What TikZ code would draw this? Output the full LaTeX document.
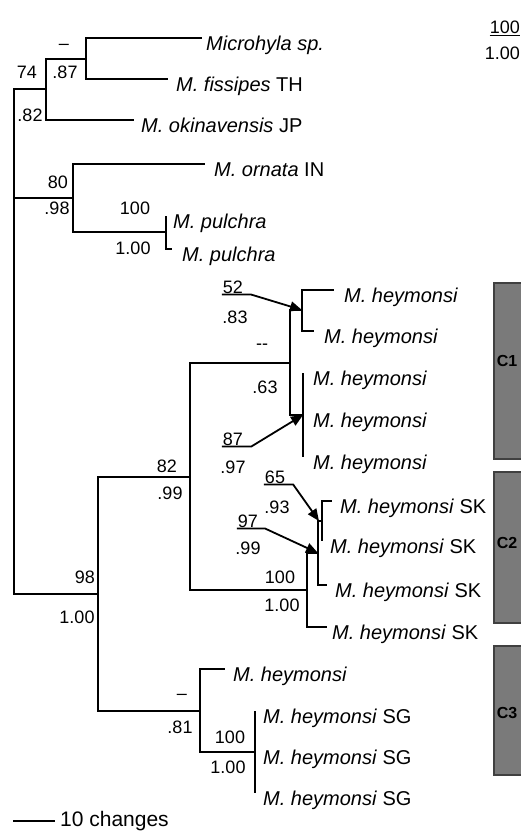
\documentclass[tikz,border=0pt]{standalone}
\usepackage{fontspec}
\setmainfont{Liberation Sans}
\usetikzlibrary{arrows.meta,positioning}

\newcommand{\mh}{\textit{M.\ heymonsi}}

\begin{document}
\begin{tikzpicture}[x=1pt,y=-1pt,
  br/.style={line width=2pt},
  taxon/.style={font=\fontsize{20}{24}\selectfont,inner sep=0pt,text height=14pt,text depth=4pt},
  supp/.style={font=\fontsize{18}{21}\selectfont,inner sep=1pt},
  ptr/.style={line width=1.8pt,-{Triangle[length=12pt,width=10pt]}},
  clade/.style={draw=black!75,line width=1.5pt,fill=black!52},
  cname/.style={font=\bfseries\fontsize{16}{18}\selectfont,inner sep=0pt}
]
\useasboundingbox (0,0) rectangle (521,833);
\clip (0,0) rectangle (521,833);

% internal nodes
\coordinate (root) at (14,198);
\coordinate (nA) at (46,89);
\coordinate (nB) at (86,59);
\coordinate (nC) at (73,198);
\coordinate (nP) at (166,232);
\coordinate (nD) at (98,594);
\coordinate (nE) at (190,477);
\coordinate (nC1) at (290,363);
\coordinate (nC1a) at (302,310);
\coordinate (nC1b) at (303,415);
\coordinate (nC2) at (307,590);
\coordinate (nG) at (318,553);
\coordinate (nH) at (322,521);
\coordinate (nG3) at (200,711);
\coordinate (nSG) at (255,752);

% branch tips
\coordinate (tMic) at (202,38);
\coordinate (tFis) at (168,79);
\coordinate (tOki) at (134,120);
\coordinate (tOrn) at (205,164);
\coordinate (tPul1) at (166,216);
\coordinate (tPul2) at (172,249);
\coordinate (h1) at (334,290);
\coordinate (h2) at (314,331);
\coordinate (h3) at (303,373);
\coordinate (h4) at (303,415);
\coordinate (h5) at (303,457);
\coordinate (sk1) at (332,501);
\coordinate (sk2) at (322,541);
\coordinate (sk3) at (327,585);
\coordinate (sk4) at (327,627);
\coordinate (h6) at (225,669);
\coordinate (sg1) at (255,711);
\coordinate (sg2) at (255,752);
\coordinate (sg3) at (255,793);

% taxa
\node[taxon,right=4pt of tMic,yshift=-7pt] (lMic) {\textit{Microhyla sp.}};
\node[taxon,right=8pt of tFis,yshift=-7pt] (lFis) {\textit{M.\ fissipes} TH};
\node[taxon,right=7pt of tOki,yshift=-7pt] (lOki) {\textit{M.\ okinavensis} JP};
\node[taxon,right=9pt of tOrn,yshift=-7pt] (lOrn) {\textit{M.\ ornata} IN};
\node[taxon,right=7pt of tPul1,yshift=-7pt] (lPul1) {\textit{M.\ pulchra}};
\node[taxon,right=10pt of tPul2,yshift=-7pt] (lPul2) {\textit{M.\ pulchra}};
\node[taxon,right=10pt of h1,yshift=-7pt] (lh1) {\mh};
\node[taxon,right=10pt of h2,yshift=-7pt] (lh2) {\mh};
\node[taxon,right=10pt of h3,yshift=-7pt] (lh3) {\mh};
\node[taxon,right=10pt of h4,yshift=-7pt] (lh4) {\mh};
\node[taxon,right=10pt of h5,yshift=-7pt] (lh5) {\mh};
\node[taxon,right=8pt of sk1,yshift=-7pt] (lsk1) {\mh{} SK};
\node[taxon,right=8pt of sk2,yshift=-7pt] (lsk2) {\mh{} SK};
\node[taxon,right=8pt of sk3,yshift=-7pt] (lsk3) {\mh{} SK};
\node[taxon,right=5pt of sk4,yshift=-7pt] (lsk4) {\mh{} SK};
\node[taxon,right=8pt of h6,yshift=-7pt] (lh6) {\mh};
\node[taxon,right=8pt of sg1,yshift=-7pt] (lsg1) {\mh{} SG};
\node[taxon,right=8pt of sg2,yshift=-7pt] (lsg2) {\mh{} SG};
\node[taxon,right=8pt of sg3,yshift=-7pt] (lsg3) {\mh{} SG};

% branches
\draw[br] (root) |- (nA);
\draw[br] (root) |- (nC);
\draw[br] (root) |- (nD);
\draw[br] (nA) |- (nB);
\draw[br] (nA) |- (tOki);
\draw[br] (nB) |- (tMic);
\draw[br] (nB) |- (tFis);
\draw[br] (nC) |- (tOrn);
\draw[br] (nC) |- (nP);
\draw[br] (nP) |- (tPul1);
\draw[br] (nP) |- (tPul2);
\draw[br] (nD) |- (nE);
\draw[br] (nD) |- (nG3);
\draw[br] (nE) |- (nC1);
\draw[br] (nE) |- (nC2);
\draw[br] (nC1) |- (nC1a);
\draw[br] (nC1) |- (nC1b);
\draw[br] (nC1a) |- (h1);
\draw[br] (nC1a) |- (h2);
\draw[br] (nC1b) |- (h3);
\draw[br] (nC1b) |- (h5);
\draw[br] (nC2) |- (nG);
\draw[br] (nC2) |- (sk4);
\draw[br] (nG) |- (nH);
\draw[br] (nG) |- (sk3);
\draw[br] (nH) |- (sk1);
\draw[br] (nH) |- (sk2);
\draw[br] (nG3) |- (h6);
\draw[br] (nG3) |- (nSG);
\draw[br] (nSG) |- (sg1);
\draw[br] (nSG) |- (sg3);

% support values
\node[supp] (bA) at (27,72) {74};
\node[supp] (pA) at (30,115) {.82};
\node[supp] (bB) at (64,47) {--};
\node[supp] (pB) at (65,72) {.87};
\node[supp] (bC) at (58,182) {80};
\node[supp] (pC) at (57,208) {.98};
\node[supp] (bP) at (135,208) {100};
\node[supp] (pP) at (133,248) {1.00};
\node[supp] (b52) at (233,287) {52};
\node[supp] (p83) at (235,317) {.83};
\node[supp] (bC1) at (262,347) {-{}-};
\node[supp] (pC1) at (265,387) {.63};
\node[supp] (b87) at (233,439) {87};
\node[supp] (p97) at (233,467) {.97};
\node[supp] (bE) at (167,466) {82};
\node[supp] (pE) at (170,493) {.99};
\node[supp] (b65) at (275,477) {65};
\node[supp] (p93) at (277,507) {.93};
\node[supp] (b97) at (248,521) {97};
\node[supp] (p99) at (248,548) {.99};
\node[supp] (bC2) at (280,577) {100};
\node[supp] (pC2) at (282,605) {1.00};
\node[supp] (bD) at (85,577) {98};
\node[supp] (pD) at (77,617) {1.00};
\node[supp] (bG3) at (182,697) {--};
\node[supp] (pG3) at (180,727) {.81};
\node[supp] (bSG) at (230,737) {100};
\node[supp] (pSG) at (228,767) {1.00};

% pointers to short internodes
\draw[ptr] (b52.south west) -- ([xshift=7pt]b52.south east) -- (nC1a);
\draw[ptr] (b87.south west) -- ([xshift=7pt]b87.south east) -- (nC1b);
\draw[ptr] (b65.south west) -- ([xshift=7pt]b65.south east) -- ([xshift=-3pt]nH);
\draw[ptr] (b97.south west) -- ([xshift=6pt]b97.south east) -- (nG);

% key
\node[supp,anchor=east,inner sep=0pt] (key1) at (520,27) {100};
\node[supp,anchor=east,inner sep=0pt] (key2) at (520,53) {1.00};
\draw[line width=1.2pt] ([yshift=-2pt]key1.south west) -- ([yshift=-2pt]key1.south east);

% clades
\draw[clade] (494,283) rectangle (530,459);
\draw[clade] (494,472) rectangle (530,623);
\draw[clade] (494,646) rectangle (530,775);
\node[cname] (c1) at (507,361) {C1};
\node[cname] (c2) at (507,543) {C2};
\node[cname] (c3) at (507,713) {C3};

% scale
\coordinate (s0) at (13,821);
\coordinate (s1) at (55,821);
\draw[line width=1.5pt] (s0) -- (s1);
\node[font=\fontsize{21}{24}\selectfont,right=5pt of s1,inner sep=0pt] (scl) {10 changes};
\end{tikzpicture}
\end{document}
